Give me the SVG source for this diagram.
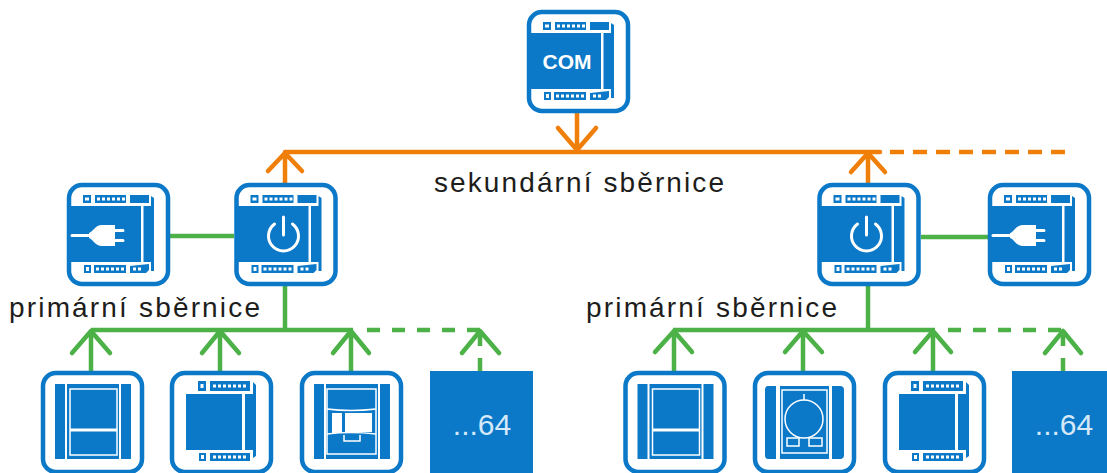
<svg xmlns="http://www.w3.org/2000/svg" width="1107" height="473" viewBox="0 0 1107 473">
<style>
.frame{fill:#fff;stroke:#0b78c8;stroke-width:4.5}
.b{fill:#0b78c8}
.wl{fill:none;stroke:#fff;stroke-width:1.5}
.dots{fill:none;stroke:#fff;stroke-width:3;stroke-dasharray:3 2}
.icon{fill:none;stroke:#fff;stroke-width:3;stroke-linecap:round}
.wf{fill:#fff}
.or{fill:none;stroke:#f07f0a;stroke-width:4.5;stroke-linecap:round;stroke-linejoin:round}
.gr{fill:none;stroke:#4cb147;stroke-width:4.5;stroke-linejoin:round}
.grh{fill:none;stroke:#4cb147;stroke-width:4.5;stroke-linecap:round;stroke-linejoin:round}
.ordash{fill:none;stroke:#f07f0a;stroke-width:4.5;stroke-dasharray:14 9}
.grdash{fill:none;stroke:#4cb147;stroke-width:4.5;stroke-dasharray:13 12}
.lab{font-family:"Liberation Sans",Arial,sans-serif;font-size:28px;fill:#1d1d1b}
.more{font-family:"Liberation Sans",Arial,sans-serif;font-size:30px;fill:#d5e9f8}
.com{font-family:"Liberation Sans",Arial,sans-serif;font-size:21px;font-weight:700;fill:#fff}
</style>
<defs>
<g id="frame"><rect class="frame" x="2" y="2" width="99" height="99" rx="13"/></g>
<g id="module">
<use href="#frame"/>
<path class="b" d="M2 23H74V79H2Z"/>
<path class="b" d="M84 13L87 15V88H84V79H76.500V23H84Z"/>
<rect class="b" x="16" y="12" width="8" height="8"/>
<rect class="b" x="28" y="12" width="31" height="8"/>
<rect class="b" x="63" y="12" width="19" height="8"/>
<rect class="b" x="17" y="82" width="7" height="8"/>
<rect class="b" x="27" y="82" width="32" height="8"/>
<path class="b" d="M63 83L82 81V87L79 90H63Z"/>
<path class="dots" d="M30 16H58M29 86H58"/>
<path class="dots" d="M66 86H76" stroke-dasharray="2 2"/>
<path class="wf" d="M18 14.500h4v3h-4ZM19 84h3v4h-3Z"/>
</g>
<g id="plug">
<path class="icon" d="M5 52.500H26"/>
<path class="wf" d="M22 50C26 49 28 42 35 42H48V63H35C28 63 26 56 22 55Z"/>
<path class="icon" d="M48 47.500H56M48 57.500H56"/>
</g>
<g id="power">
<path class="icon" d="M40 41A15 15 0 1 0 58 41M49 34V52"/>
</g>
<g id="panel">
<use href="#frame"/>
<rect class="b" x="14" y="13" width="10" height="75"/>
<rect class="b" x="80" y="13" width="10" height="75"/>
<rect class="b" x="26" y="13" width="52" height="75"/>
</g>
<g id="switch">
<use href="#panel"/>
<rect class="wl" x="29" y="18" width="47" height="66"/>
<rect class="wf" x="29" y="57.500" width="47" height="3"/>
</g>
<g id="module2">
<use href="#frame"/>
<rect class="b" x="16" y="23" width="56" height="56"/>
<path class="b" d="M83 11L86 14V85L83 87V79H75V23H83Z"/>
<rect class="b" x="28" y="10" width="8" height="10"/>
<rect class="b" x="40" y="10" width="40" height="10"/>
<rect class="b" x="29" y="82" width="7" height="8"/>
<rect class="b" x="40" y="82" width="40" height="8"/>
<path class="dots" d="M43 15H77M43 86H77"/>
<path class="wf" d="M30.500 13h3v4h-3ZM31 84h3v4h-3Z"/>
</g>
</defs>

<g id="connectors">
<path class="or" d="M285 152H880"/>
<path class="or" d="M577 113V150M558 128L577 150L596 128"/>
<path class="or" d="M285 183V153M268 171L285 153L302 171"/>
<path class="or" d="M868 182V153M851 172L868 153L885 172"/>
<path class="ordash" d="M890 152H1066"/>
<path class="gr" d="M169 236H234M921 237H988"/>
<path class="gr" d="M285 286V330M868 286V330"/>
<path class="gr" d="M91 330H353M673 330H935"/>
<path class="grh" d="M91 371V331M72 353L91 331L110 353"/>
<path class="grh" d="M220 371V331M202 353L220 331L239 353"/>
<path class="grh" d="M351 371V331M333 353L351 331L369 353"/>
<path class="grh" d="M674 371V331M655 352L674 331L692 352"/>
<path class="grh" d="M803 371V331M785 352L803 331L822 352"/>
<path class="grh" d="M933 371V331M915 352L933 331L951 352"/>
<path class="grdash" d="M367 330H480M948 330H1063"/>
<path class="grh" d="M462 353L480 331L499 353M1045 353L1063 331L1081 353"/>
<path class="gr" d="M480 371V358M480 346V335M1063 371V358M1063 346V335"/>
</g>

<g id="node-com" transform="translate(527 10)"><use href="#module"/><text class="com" x="40" y="59" text-anchor="middle">COM</text></g>
<g id="node-plug-left" transform="translate(67 183)"><use href="#module"/><use href="#plug"/></g>
<g id="node-power-left" transform="translate(234.500 183)"><use href="#module"/><use href="#power"/></g>
<g id="node-power-right" transform="translate(817.500 183)"><use href="#module"/><use href="#power"/></g>
<g id="node-plug-right" transform="translate(988 183)"><use href="#module"/><use href="#plug"/></g>

<g id="node-l1" transform="translate(41 371)"><use href="#switch"/></g>
<g id="node-l2" transform="translate(170 371)"><use href="#module2"/></g>
<g id="node-l3" transform="translate(300 371)"><use href="#panel"/>
<rect class="wl" x="27" y="18" width="49" height="65"/>
<path class="wl" d="M27 38Q51 41 76 38M27 63Q51 60 76 63M44 64V70H60V64"/>
<path class="wf" d="M32 42H42V62H32ZM45 42H72V61H45Z"/>
</g>
<g id="node-l4" transform="translate(430 371)"><rect class="b" width="103" height="102"/><text class="more" x="52" y="64" text-anchor="middle">...64</text></g>

<g id="node-r1" transform="translate(623.500 371)"><use href="#switch"/></g>
<g id="node-r2" transform="translate(753 371)"><use href="#frame"/>
<path class="b" d="M15 15H23V88H15Q12 88 12 84V19Q12 15 15 15ZM79 15H87Q91 15 91 19V84Q91 88 87 88H79Z"/>
<rect class="b" x="27" y="15" width="49" height="73"/>
<rect class="wl" x="29" y="19" width="45" height="63"/>
<circle class="wl" cx="51" cy="48" r="19"/>
<path class="wl" d="M51 23V29"/>
<rect class="wl" x="34" y="67" width="12" height="8"/>
<rect class="wl" x="56" y="67" width="13" height="8"/>
</g>
<g id="node-r3" transform="translate(883 371)"><use href="#module2"/></g>
<g id="node-r4" transform="translate(1012 371)"><rect class="b" width="95" height="102"/><text class="more" x="52" y="64" text-anchor="middle">...64</text></g>

<text class="lab" x="434" y="192" textLength="290" lengthAdjust="spacing">sekundární sběrnice</text>
<text class="lab" x="9" y="317" textLength="251" lengthAdjust="spacing">primární sběrnice</text>
<text class="lab" x="586" y="317" textLength="251" lengthAdjust="spacing">primární sběrnice</text>
</svg>
